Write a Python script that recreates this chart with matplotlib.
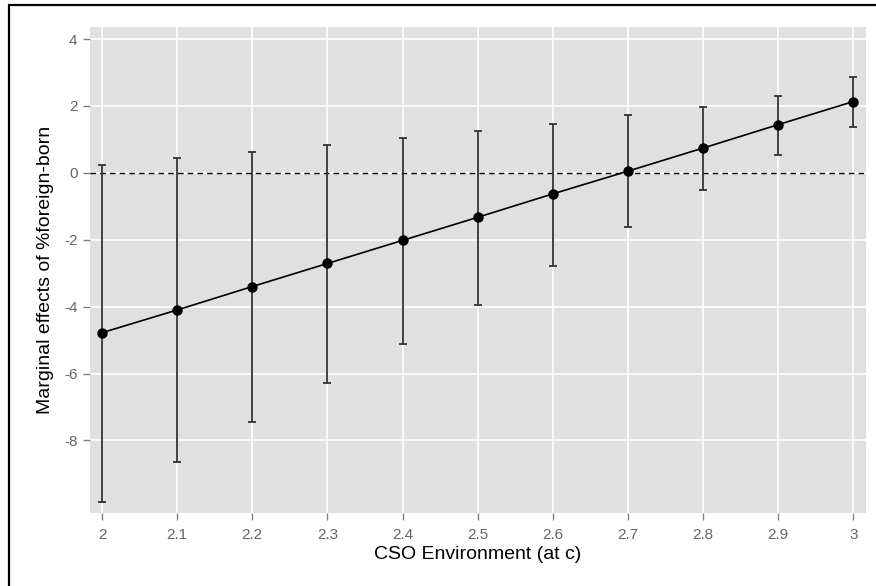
import numpy as np
import matplotlib
matplotlib.use('Agg')
import matplotlib.pyplot as plt
from matplotlib.patches import Rectangle

plt.rcParams['font.family'] = ['Liberation Sans', 'DejaVu Sans']
plt.rcParams['axes.unicode_minus'] = False

# values
cso = [2.0, 2.1, 2.2, 2.3, 2.4, 2.5, 2.6, 2.7, 2.8, 2.9, 3.0]
effect = [-4.78, -4.10, -3.40, -2.71, -2.02, -1.33, -0.63, 0.05, 0.74, 1.44, 2.13]
upper = [0.24, 0.44, 0.63, 0.84, 1.05, 1.26, 1.47, 1.72, 1.98, 2.31, 2.87]
lower = [-9.83, -8.65, -7.46, -6.29, -5.11, -3.94, -2.78, -1.63, -0.51, 0.53, 1.36]
xticks = [2.0, 2.1, 2.2, 2.3, 2.4, 2.5, 2.6, 2.7, 2.8, 2.9, 3.0]
xticklabels = ['2', '2.1', '2.2', '2.3', '2.4', '2.5', '2.6', '2.7', '2.8', '2.9', '3']
yticks = [-8, -6, -4, -2, 0, 2, 4]

W, H = 876, 586
fig = plt.figure(figsize=(W / 100, H / 100), dpi=100)

# black frame around the figure (cut off on right and bottom)
fig.patches.append(Rectangle((9 / W, -0.1), 1.2, 1 - 5 / H + 0.1,
                             transform=fig.transFigure, fill=False,
                             edgecolor='black', linewidth=1.6))

ax = fig.add_axes([90 / W, (H - 513) / H, (866 - 90) / W, (513 - 27) / H])
ax.set_facecolor('#e0e0e0')
for s in ax.spines.values():
    s.set_visible(False)

ax.set_xlim(1.984, 3.017)
ax.set_ylim(-10.17, 4.36)
ax.set_xticks(xticks)
ax.set_xticklabels(xticklabels)
ax.set_yticks(yticks)
ax.grid(True, color='white', linewidth=1.2)
ax.set_axisbelow(True)
ax.tick_params(axis='both', colors='#808080', labelcolor='#666666',
               labelsize=11, length=5, width=1, direction='out', pad=4)
ax.tick_params(axis='x', pad=6)

ax.axhline(0, color='black', linewidth=1, linestyle=(0, (4, 3)))

yerr = np.array([np.array(effect) - np.array(lower),
                 np.array(upper) - np.array(effect)])
ax.errorbar(cso, effect, yerr=yerr, fmt='none', ecolor='#333333',
            elinewidth=1.3, capsize=3, capthick=1.3)
ax.plot(cso, effect, color='black', linewidth=1.2)
ax.plot(cso, effect, 'o', color='black', markersize=6.5)

ax.set_xlabel('CSO Environment (at c)', fontsize=14, labelpad=3)
ax.set_ylabel('Marginal effects of %foreign-born', fontsize=14, labelpad=7)

fig.savefig('out.png', dpi=100)
